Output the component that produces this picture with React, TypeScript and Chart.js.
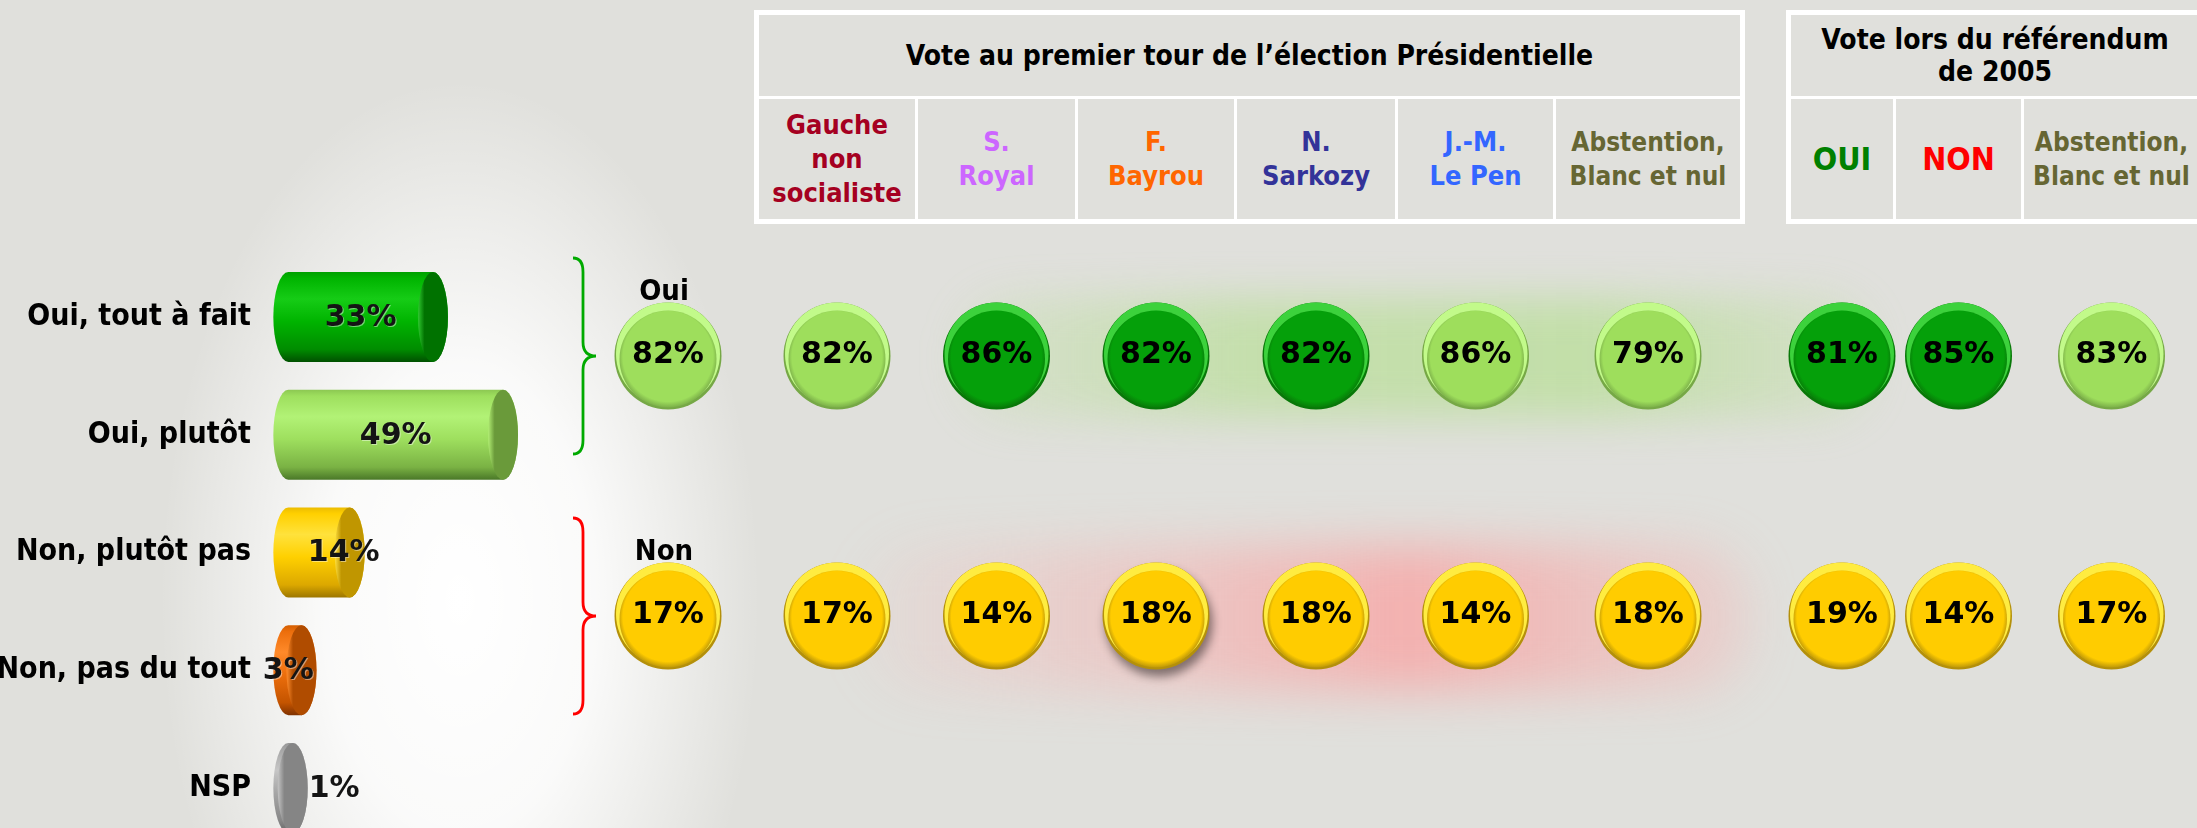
import React, { useEffect, useRef } from "react";
import { Chart, registerables } from "chart.js";

Chart.register(...registerables);

// ---------------- data ----------------
const barCategories = ["Oui, tout à fait", "Oui, plutôt", "Non, plutôt pas", "Non, pas du tout", "NSP"];
const barValues = [33, 49, 14, 3, 1];

const rowLabels = ["Oui", "Non"];
const overallLabel = "Ensemble";
const overallOui = 82;
const overallNon = 17;

const presTitle = "Vote au premier tour de l’élection Présidentielle";
const presCategories = [
  ["Gauche", "non", "socialiste"],
  ["S.", "Royal"],
  ["F.", "Bayrou"],
  ["N.", "Sarkozy"],
  ["J.-M.", "Le Pen"],
  ["Abstention,", "Blanc et nul"],
];
const presOui = [82, 86, 82, 82, 86, 79];
const presNon = [17, 14, 18, 18, 14, 18];

const refTitle = ["Vote lors du référendum", "de 2005"];
const refCategories = [["OUI"], ["NON"], ["Abstention,", "Blanc et nul"]];
const refOui = [81, 85, 83];
const refNon = [19, 14, 17];

// ---------------- styles ----------------
const COND = "'DejaVu Sans Condensed', 'DejaVu Sans', sans-serif";
const WIDE = "'DejaVu Sans', sans-serif";
const BG = "#E0E0DC";

const presColors = ["#A50021", "#CC66FF", "#FF6600", "#333399", "#3366FF", "#666633"];
const refColors = ["#008000", "#FF0000", "#666633"];
const presSizes = [27, 27, 27, 27, 27, 26];
const refSizes = [32, 32, 26];
const presOuiTone = ["light", "dark", "dark", "dark", "light", "light"];
const refOuiTone = ["dark", "dark", "light"];
const presNonShadow = [false, false, true, false, false, false];
const refNonShadow = [false, false, false];
const presWidths = [156, 157, 156, 158, 155, 184];
const refWidths = [102, 125, 175];
const barLabelPlacement = ["center", "center", "end", "start", "outside"];

const barTones = [
  { top: "#00A000", main: "#00B400", light: "#16CC16", shade: "#008C00", dark: "#005000", cap: "#007200", capHi: "#30C830" },
  { top: "#8CC852", main: "#9EDF5E", light: "#B2F276", shade: "#7AB244", dark: "#4A7828", cap: "#6A9A3A", capHi: "#B2EE74" },
  { top: "#ECBC00", main: "#FFD000", light: "#FFE23C", shade: "#DCA800", dark: "#9C7600", cap: "#C09600", capHi: "#FFE040" },
  { top: "#D45E00", main: "#EC6E0C", light: "#FF8A2A", shade: "#C45400", dark: "#803200", cap: "#B04C00", capHi: "#FF8C2C" },
  { top: "#989898", main: "#A6A6A6", light: "#C6C6C6", shade: "#888888", dark: "#666666", cap: "#858585", capHi: "#C4C4C4" },
];

const buttonTones: Record<string, { main: string; hi: string; edge: string }> = {
  light: { main: "#9EDE5C", hi: "#C2FA8A", edge: "#76A846" },
  dark: { main: "#05A00A", hi: "#3CD23C", edge: "#087808" },
  yellow: { main: "#FFCC00", hi: "#FFEC40", edge: "#B4900A" },
};
const braceColors = ["#00AA00", "#FF0000"];

// ---------------- plugins ----------------
const cylinderPlugin = {
  id: "cylinders",
  afterDatasetsDraw(chart: any) {
    const ctx = chart.ctx as CanvasRenderingContext2D;
    const meta = chart.getDatasetMeta(0);
    const values = chart.data.datasets[0].data as number[];
    meta.data.forEach((el: any, i: number) => {
      const { x, y, base, height } = el.getProps(["x", "y", "base", "height"], true);
      const rx = 15;
      const ry = height / 2;
      const top = y - ry;
      const bottom = y + ry;
      const c = barTones[i];
      ctx.save();
      const g = ctx.createLinearGradient(0, top, 0, bottom);
      g.addColorStop(0, c.top);
      g.addColorStop(0.07, c.main);
      g.addColorStop(0.3, c.light);
      g.addColorStop(0.55, c.main);
      g.addColorStop(0.86, c.shade);
      g.addColorStop(1, c.dark);
      ctx.beginPath();
      ctx.moveTo(base, top);
      ctx.lineTo(x, top);
      ctx.ellipse(x, y, rx, ry, 0, -Math.PI / 2, Math.PI / 2);
      ctx.lineTo(base, bottom);
      ctx.ellipse(base, y, rx, ry, 0, Math.PI / 2, Math.PI * 1.5);
      ctx.closePath();
      ctx.fillStyle = g;
      ctx.fill();
      const cg = ctx.createLinearGradient(x - rx, 0, x + rx, 0);
      cg.addColorStop(0, c.capHi);
      cg.addColorStop(0.22, c.cap);
      cg.addColorStop(1, c.cap);
      ctx.beginPath();
      ctx.ellipse(x, y, rx, ry, 0, 0, Math.PI * 2);
      ctx.fillStyle = cg;
      ctx.fill();
      // value label
      const mode = barLabelPlacement[i];
      let tx = (base + x) / 2;
      let align: CanvasTextAlign = "center";
      if (mode === "end") tx = x - 6;
      else if (mode === "start") tx = base;
      else if (mode === "outside") {
        tx = x + rx + 1;
        align = "left";
      }
      ctx.font = `bold 30px ${WIDE}`;
      ctx.textAlign = align;
      ctx.textBaseline = "middle";
      ctx.shadowColor = "rgba(255,255,255,0.45)";
      ctx.shadowOffsetX = 1;
      ctx.shadowOffsetY = 1;
      ctx.fillStyle = "#141414";
      ctx.fillText(`${values[i]}%`, tx, y + 1);
      ctx.restore();
    });
  },
};

function drawButton(ctx: CanvasRenderingContext2D, cx: number, cy: number, r: number, toneKey: string, shadow: boolean) {
  const t = buttonTones[toneKey];
  ctx.save();
  if (shadow) {
    ctx.shadowColor = "rgba(0,0,0,0.45)";
    ctx.shadowBlur = 10;
    ctx.shadowOffsetX = 3;
    ctx.shadowOffsetY = 7;
  }
  ctx.beginPath();
  ctx.arc(cx, cy, r, 0, Math.PI * 2);
  ctx.fillStyle = t.edge;
  ctx.fill();
  ctx.restore();
  ctx.save();
  ctx.beginPath();
  ctx.arc(cx, cy, r, 0, Math.PI * 2);
  ctx.clip();
  ctx.beginPath();
  ctx.arc(cx, cy - 2, r - 1.5, 0, Math.PI * 2);
  ctx.fillStyle = t.hi;
  ctx.fill();
  const g = ctx.createRadialGradient(cx, cy - r * 0.2, r * 0.1, cx, cy + 2, r - 3);
  g.addColorStop(0, t.main);
  g.addColorStop(0.88, t.main);
  g.addColorStop(1, t.edge);
  ctx.beginPath();
  ctx.arc(cx, cy + 3, r - 5, 0, Math.PI * 2);
  ctx.fillStyle = g;
  ctx.fill();
  ctx.restore();
}

function drawBrace(ctx: CanvasRenderingContext2D, x: number, yTop: number, yBot: number, color: string) {
  const mid = (yTop + yBot) / 2;
  ctx.save();
  ctx.strokeStyle = color;
  ctx.lineWidth = 2.8;
  ctx.beginPath();
  ctx.moveTo(x - 10, yTop);
  ctx.quadraticCurveTo(x, yTop, x, yTop + 14);
  ctx.lineTo(x, mid - 14);
  ctx.quadraticCurveTo(x, mid, x + 13, mid);
  ctx.quadraticCurveTo(x, mid, x, mid + 14);
  ctx.lineTo(x, yBot - 14);
  ctx.quadraticCurveTo(x, yBot, x - 10, yBot);
  ctx.stroke();
  ctx.restore();
}

const buttonPlugin = {
  id: "buttons",
  afterDatasetsDraw(chart: any, _args: any, opts: any) {
    const ctx = chart.ctx as CanvasRenderingContext2D;
    const meta = chart.getDatasetMeta(0);
    const pts = chart.data.datasets[0].data as any[];
    const r = 53.5;
    meta.data.forEach((el: any, i: number) => {
      const { x, y } = el.getProps(["x", "y"], true);
      const p = pts[i];
      drawButton(ctx, x, y, r, p.tone, p.shadow);
      ctx.save();
      ctx.font = `bold 30px ${WIDE}`;
      ctx.textAlign = "center";
      ctx.textBaseline = "middle";
      ctx.fillStyle = "#000";
      ctx.fillText(`${p.v}%`, x, y - 1);
      if (opts && opts.rowTitles) {
        ctx.font = `bold 29px ${COND}`;
        ctx.textBaseline = "alphabetic";
        ctx.fillText(String(p.y), x - 4, y - r - 3);
      }
      if (opts && opts.braces) {
        drawBrace(ctx, x - 85, y - 98, y + 98, braceColors[i]);
      }
      ctx.restore();
    });
  },
};

// ---------------- chart configs ----------------
function barConfig(): any {
  return {
    type: "bar",
    data: {
      labels: barCategories,
      datasets: [{ data: barValues, backgroundColor: "rgba(0,0,0,0)", barThickness: 90 }],
    },
    options: {
      indexAxis: "y",
      animation: false,
      responsive: false,
      events: [],
      layout: { padding: { top: 317, bottom: 39, left: 0, right: 0 } },
      plugins: { legend: { display: false }, tooltip: { enabled: false } },
      scales: {
        x: { min: -3.5, max: 62, display: false },
        y: {
          offset: false,
          grid: { display: false, drawTicks: false },
          border: { display: false },
          ticks: { padding: 22, color: "#000", font: { family: COND, size: 30, weight: "bold" } },
          afterFit: (s: any) => {
            s.width = 273;
          },
        },
      },
    },
    plugins: [cylinderPlugin],
  };
}

function bubbleConfig(col: string, oui: number, non: number, ouiTone: string, nonShadow: boolean, extra: any): any {
  return {
    type: "scatter",
    data: {
      datasets: [
        {
          data: [
            { x: col, y: rowLabels[0], v: oui, tone: ouiTone, shadow: false },
            { x: col, y: rowLabels[1], v: non, tone: "yellow", shadow: nonShadow },
          ],
          pointRadius: 0,
          pointHoverRadius: 0,
        },
      ],
    },
    options: {
      animation: false,
      responsive: false,
      events: [],
      layout: { padding: { top: 116, bottom: 144, left: 0, right: 0 } },
      plugins: { legend: { display: false }, tooltip: { enabled: false }, buttons: extra },
      scales: {
        x: { type: "category", labels: [col], offset: true, display: false },
        y: { type: "category", labels: rowLabels, offset: false, display: false },
      },
    },
    plugins: [buttonPlugin],
  };
}

function ChartCanvas({ left, top, width, height, build }: { left: number; top: number; width: number; height: number; build: () => any }) {
  const ref = useRef<HTMLCanvasElement>(null);
  useEffect(() => {
    const chart = new Chart(ref.current as HTMLCanvasElement, build());
    return () => chart.destroy();
  }, []);
  return (
    <canvas
      ref={ref}
      width={width}
      height={height}
      style={{ position: "absolute", left, top, width, height, display: "block" }}
    />
  );
}

// ---------------- header tables ----------------
function HeaderTable({
  left,
  title,
  cats,
  colors,
  sizes,
  widths,
}: {
  left: number;
  title: string[];
  cats: string[][];
  colors: string[];
  sizes: number[];
  widths: number[];
}) {
  const gap = 3;
  const inner = widths.reduce((a, b) => a + b, 0) + gap * (widths.length - 1);
  return (
    <div
      style={{
        position: "absolute",
        left,
        top: 10,
        padding: 5,
        background: "#FFFFFF",
        width: inner,
        fontFamily: COND,
        fontWeight: "bold",
      }}
    >
      <div
        style={{
          height: 81,
          background: BG,
          display: "flex",
          alignItems: "center",
          justifyContent: "center",
          flexDirection: "column",
          fontSize: 28,
          lineHeight: "32px",
          color: "#000",
          textAlign: "center",
        }}
      >
        {title.map((t, i) => (
          <div key={i}>{t}</div>
        ))}
      </div>
      <div style={{ display: "flex", gap, marginTop: gap }}>
        {cats.map((lines, i) => (
          <div
            key={i}
            style={{
              width: widths[i],
              height: 120,
              background: BG,
              display: "flex",
              flexDirection: "column",
              alignItems: "center",
              justifyContent: "center",
              color: colors[i],
              fontSize: sizes[i],
              lineHeight: "34px",
              textAlign: "center",
              whiteSpace: "nowrap",
            }}
          >
            {lines.map((l, j) => (
              <div key={j}>{l}</div>
            ))}
          </div>
        ))}
      </div>
    </div>
  );
}

function lefts(start: number, widths: number[]) {
  const out: number[] = [];
  let x = start;
  widths.forEach((w) => {
    out.push(x);
    x += w + 3;
  });
  return out;
}

export default function App() {
  useEffect(() => {
    document.body.style.margin = "0";
  }, []);
  const presLefts = lefts(759, presWidths);
  const refLefts = lefts(1791, refWidths);
  const CT = 240;
  const CH = 520;
  const EXT = 24;
  return (
    <div
      style={{
        position: "fixed",
        left: 0,
        top: 0,
        width: 2197,
        height: 828,
        overflow: "hidden",
        background: BG,
      }}
    >
      {/* background glows */}
      <div
        style={{
          position: "absolute",
          left: 0,
          top: 0,
          width: 2197,
          height: 828,
          background:
            "radial-gradient(ellipse 300px 520px at 460px 600px, rgba(255,255,255,1) 0%, rgba(255,255,255,0.85) 45%, rgba(255,255,255,0) 100%)",
        }}
      />
      <div
        style={{
          position: "absolute",
          left: 960,
          top: 298,
          width: 910,
          height: 120,
          borderRadius: 50,
          filter: "blur(20px)",
          background:
            "linear-gradient(90deg, rgba(175,222,135,0.15) 0%, rgba(175,222,135,0.55) 30%, rgba(175,222,135,0.6) 70%, rgba(175,222,135,0.2) 100%)",
        }}
      />
      <div
        style={{
          position: "absolute",
          left: 860,
          top: 546,
          width: 890,
          height: 145,
          borderRadius: 60,
          filter: "blur(24px)",
          background:
            "linear-gradient(90deg, rgba(250,170,170,0.05) 0%, rgba(250,168,168,0.45) 35%, rgba(250,160,160,0.75) 62%, rgba(250,170,170,0.25) 100%)",
        }}
      />

      <HeaderTable left={754} title={[presTitle]} cats={presCategories} colors={presColors} sizes={presSizes} widths={presWidths} />
      <HeaderTable left={1786} title={refTitle} cats={refCategories} colors={refColors} sizes={refSizes} widths={refWidths} />

      <ChartCanvas left={0} top={0} width={560} height={828} build={barConfig} />
      <ChartCanvas
        left={560}
        top={CT}
        width={216}
        height={CH}
        build={() => bubbleConfig(overallLabel, overallOui, overallNon, "light", false, { rowTitles: true, braces: true })}
      />
      {presCategories.map((c, i) => (
        <ChartCanvas
          key={"p" + i}
          left={presLefts[i] - EXT}
          top={CT}
          width={presWidths[i] + EXT * 2}
          height={CH}
          build={() => bubbleConfig(c.join(" "), presOui[i], presNon[i], presOuiTone[i], presNonShadow[i], {})}
        />
      ))}
      {refCategories.map((c, i) => (
        <ChartCanvas
          key={"r" + i}
          left={refLefts[i] - EXT}
          top={CT}
          width={refWidths[i] + EXT * 2}
          height={CH}
          build={() => bubbleConfig(c.join(" "), refOui[i], refNon[i], refOuiTone[i], refNonShadow[i], {})}
        />
      ))}
    </div>
  );
}
